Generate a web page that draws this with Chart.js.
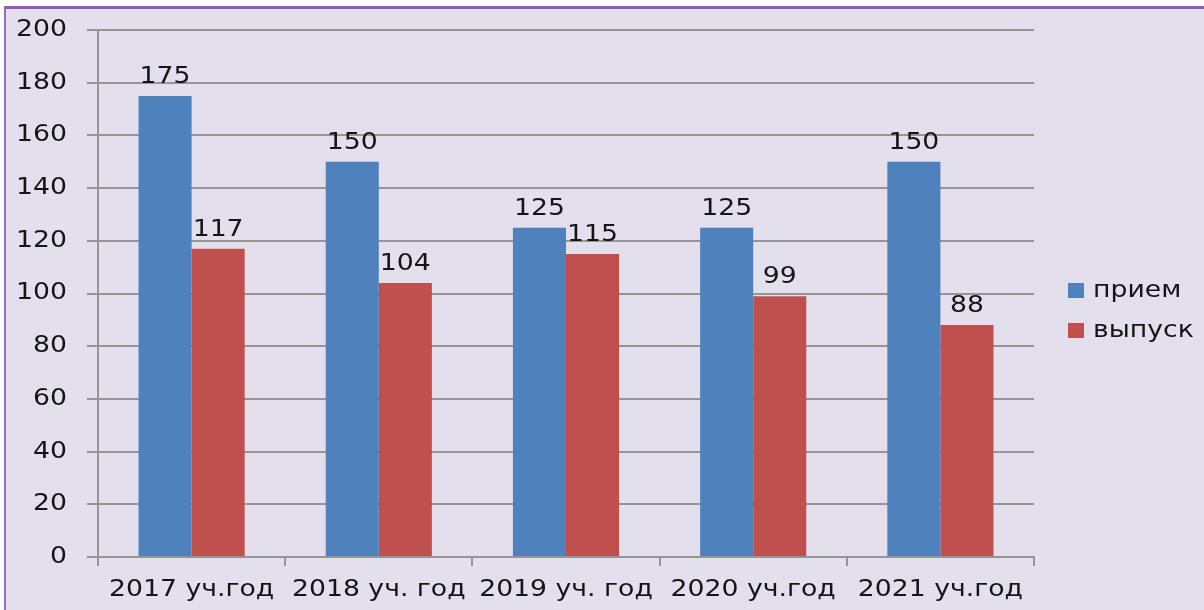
<!DOCTYPE html>
<html>
<head>
<meta charset="utf-8">
<script src="https://cdn.jsdelivr.net/npm/chart.js@4.4.1/dist/chart.umd.min.js"></script>
<style>
  html, body { margin: 0; padding: 0; background: #ffffff; width: 1204px; height: 610px; overflow: hidden; }
  #frame { position: absolute; left: 4px; top: 6px; width: 1200px; height: 604px; background: #e4dfec;
           border-left: 2px solid #9a6cc4; border-top: 3px solid #8d5cb8; box-sizing: border-box; }
  #wrap { position: absolute; left: 0; top: 0; width: 1204px; height: 610px; }
</style>
</head>
<body>
<div id="frame"></div>
<div id="wrap"><canvas id="c" width="1204" height="610"></canvas></div>
<script>
const categories = ['2017 уч.год', '2018 уч. год', '2019 уч. год', '2020 уч.год', '2021 уч.год'];
const seriesNames = ['прием', 'выпуск'];
const priem = [175, 150, 125, 125, 150];
const vypusk = [117, 104, 115, 99, 88];
const yTicks = [0, 20, 40, 60, 80, 100, 120, 140, 160, 180, 200];

const FONT = "'DejaVu Sans', Verdana, sans-serif";
const FONT_SIZE = 23;
const STRETCH = 1.16;
const GRID = '#959595';
const TEXT = '#141414';

const canvas = document.getElementById('c');
const ctx0 = canvas.getContext('2d');
// Text in the reference is horizontally widened; widen glyphs around their anchor point.
const nativeFillText = ctx0.fillText.bind(ctx0);
ctx0.fillText = function (text, x, y, maxWidth) {
  this.save();
  this.translate(x, y);
  this.scale(STRETCH, 1);
  if (maxWidth !== undefined) nativeFillText(text, 0, 0, maxWidth / STRETCH);
  else nativeFillText(text, 0, 0);
  this.restore();
};

const valueLabels = {
  id: 'valueLabels',
  afterDatasetsDraw(chart) {
    const ctx = chart.ctx;
    ctx.save();
    ctx.font = FONT_SIZE + 'px ' + FONT;
    ctx.fillStyle = TEXT;
    ctx.textAlign = 'center';
    ctx.textBaseline = 'alphabetic';
    chart.data.datasets.forEach((ds, i) => {
      chart.getDatasetMeta(i).data.forEach((el, j) => {
        ctx.fillText(String(ds.data[j]), el.x, el.y - 13);
      });
    });
    ctx.restore();
  }
};

const sideLegend = {
  id: 'sideLegend',
  afterDraw(chart) {
    const ctx = chart.ctx;
    ctx.save();
    ctx.font = FONT_SIZE + 'px ' + FONT;
    ctx.textBaseline = 'middle';
    ctx.textAlign = 'left';
    chart.data.datasets.forEach((ds, i) => {
      const y = 291 + i * 40;
      ctx.fillStyle = ds.backgroundColor;
      ctx.fillRect(1068, y - 8, 16, 15);
      ctx.fillStyle = TEXT;
      ctx.fillText(ds.label, 1093, y);
    });
    ctx.restore();
  }
};

new Chart(canvas, {
  type: 'bar',
  data: {
    labels: categories,
    datasets: [
      { label: seriesNames[0], data: priem, backgroundColor: '#4f81bd' },
      { label: seriesNames[1], data: vypusk, backgroundColor: '#c0504d' }
    ]
  },
  plugins: [valueLabels, sideLegend],
  options: {
    responsive: false,
    animation: false,
    devicePixelRatio: 1,
    layout: { padding: { top: 30, right: 170, left: 1, bottom: 0 } },
    plugins: { legend: { display: false }, tooltip: { enabled: false } },
    datasets: { bar: { categoryPercentage: 0.567, barPercentage: 1.0, borderWidth: 0 } },
    scales: {
      x: {
        afterFit(s) { s.height = 53; s.paddingLeft = 0; s.paddingRight = 0; },
        grid: { offset: true, drawOnChartArea: false, drawTicks: true, tickLength: 9, color: GRID, lineWidth: 2 },
        border: { display: true, color: GRID, width: 2 },
        ticks: { color: TEXT, font: { family: FONT, size: FONT_SIZE }, padding: 10, maxRotation: 0, autoSkip: false }
      },
      y: {
        min: 0, max: 200,
        afterFit(s) { s.width = 97; s.paddingTop = 0; s.paddingBottom = 0; },
        afterBuildTicks(s) { s.ticks = yTicks.map(v => ({ value: v })); },
        grid: { drawTicks: true, tickLength: 11, color: GRID, lineWidth: 2 },
        border: { display: true, color: GRID, width: 2 },
        ticks: { color: TEXT, font: { family: FONT, size: FONT_SIZE }, padding: 20 }
      }
    }
  }
});
</script>
</body>
</html>
